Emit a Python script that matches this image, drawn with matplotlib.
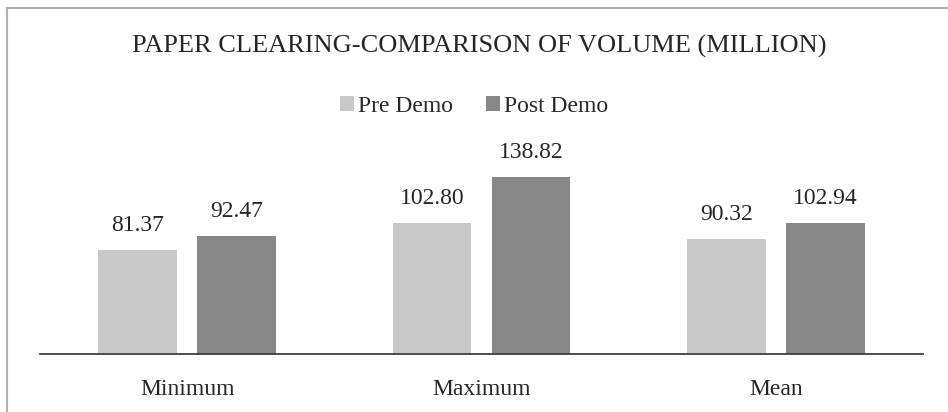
import matplotlib.pyplot as plt
import numpy as np
from matplotlib.lines import Line2D

categories = ["Minimum", "Maximum", "Mean"]
preDemo = [81.37, 102.80, 90.32]
postDemo = [92.47, 138.82, 102.94]
seriesNames = ["Pre Demo", "Post Demo"]

plt.rcParams['font.family'] = ['Liberation Serif', 'DejaVu Serif']
textColor = "#262626"
preColor = "#C7C8C7"
postColor = "#878787"

fig = plt.figure(figsize=(9.48, 4.12), dpi=100)
W, H = 948, 412
ax = fig.add_axes([40 / W, (H - 354) / H, (923 - 40) / W, (354 - 150) / H])

x = np.arange(len(categories))
width = 0.268
offset = 0.168
bars1 = ax.bar(x - offset, preDemo, width, color=preColor, label=seriesNames[0])
bars2 = ax.bar(x + offset, postDemo, width, color=postColor, label=seriesNames[1])

for bars, vals in [(bars1, preDemo), (bars2, postDemo)]:
    for b, v in zip(bars, vals):
        ax.annotate(f"{v:.2f}", (b.get_x() + b.get_width() / 2, v),
                    xytext=(0, 10), textcoords="offset points",
                    ha="center", va="bottom", fontsize=17, color=textColor)

ax.set_xlim(-0.5, 2.5)
ax.set_ylim(0, 160)
ax.set_xticks(x)
ax.set_xticklabels(categories, fontsize=17, color=textColor)
ax.tick_params(axis="x", length=0, pad=18)
ax.set_yticks([])
for side in ["top", "right", "left"]:
    ax.spines[side].set_visible(False)
ax.spines["bottom"].set_color("#404040")
ax.spines["bottom"].set_linewidth(1.3)

fig.text(479 / W, 1 - 46 / H, "PAPER CLEARING-COMPARISON OF VOLUME (MILLION)",
         ha="center", va="center", fontsize=19, color=textColor)

handles, labels = ax.get_legend_handles_labels()
fig.legend(handles, labels, loc="center", bbox_to_anchor=(474 / W, 1 - 106 / H),
           ncol=2, frameon=False, fontsize=17, handlelength=0.6, handleheight=0.6,
           handletextpad=0.15, columnspacing=1.4, labelcolor=textColor)

# partial frame of the original chart box
fig.add_artist(Line2D([7 / W, 7 / W], [0, 1 - 8 / H], transform=fig.transFigure,
                      color="#B0B0B0", linewidth=1.5))
fig.add_artist(Line2D([7 / W, 1], [1 - 8 / H, 1 - 8 / H], transform=fig.transFigure,
                      color="#B0B0B0", linewidth=1.5))

plt.savefig("out.png", dpi=100)
